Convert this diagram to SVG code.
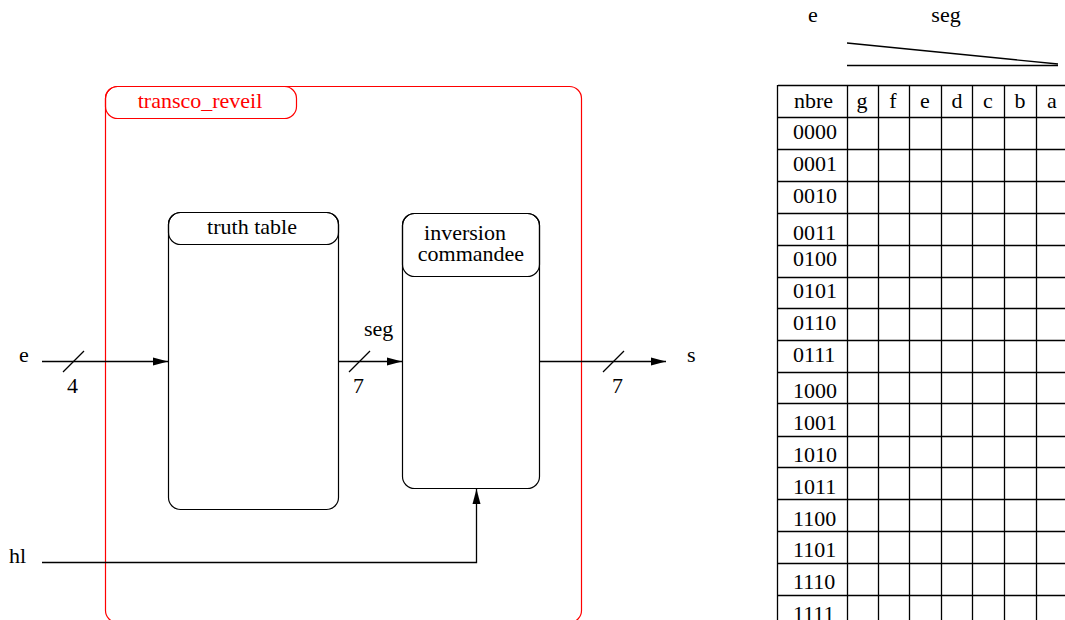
<svg xmlns="http://www.w3.org/2000/svg" width="1065" height="620" viewBox="0 0 1065 620" font-family="Liberation Serif, serif">
<defs>
<marker id="arr" markerWidth="16" markerHeight="10" refX="15" refY="5" orient="auto" markerUnits="userSpaceOnUse">
<path d="M0,1 L15,5 L0,9 Z" fill="#000"/>
</marker>
<style>
text{font-family:'Liberation Serif',serif;font-size:22px;fill:#000}
.red{fill:#ff0000}
.box{fill:none;stroke:#000;stroke-width:1.2}
.frame{fill:none;stroke:#ff0000;stroke-width:1.2}
.ln{stroke:#000;stroke-width:1.3;fill:none}
.g{stroke:#000;stroke-width:1.3}
.mid{text-anchor:middle}
</style>
</defs>
<rect width="1065" height="620" fill="#fff"/>

<g id="transco_reveil">
<rect class="frame" x="105.5" y="86.5" width="476" height="536" rx="12"/>
<rect class="frame" x="105.5" y="86.5" width="191" height="32" rx="12"/>
<text class="red mid" x="200" y="108">transco_reveil</text>
</g>

<g id="truth_table">
<rect class="box" x="168.5" y="212.5" width="170" height="297" rx="12"/>
<rect class="box" x="168.5" y="212.5" width="170" height="32" rx="12"/>
<text class="mid" x="252" y="234">truth table</text>
</g>

<g id="inversion_commandee">
<rect class="box" x="402.5" y="213.5" width="137" height="275" rx="12"/>
<rect class="box" x="402.5" y="213.5" width="137" height="63" rx="12"/>
<text class="mid" x="465" y="240">inversion</text>
<text class="mid" x="471" y="261">commandee</text>
</g>

<g id="connectors">
<line class="ln" x1="42" y1="361.5" x2="168" y2="361.5" marker-end="url(#arr)"/>
<line class="ln" x1="63" y1="372" x2="84" y2="351"/>
<line class="ln" x1="338" y1="361.5" x2="402" y2="361.5" marker-end="url(#arr)"/>
<line class="ln" x1="349" y1="372" x2="370" y2="351"/>
<line class="ln" x1="539" y1="361.5" x2="666" y2="361.5" marker-end="url(#arr)"/>
<line class="ln" x1="603" y1="372" x2="624" y2="351"/>
<polyline class="ln" points="42,562.5 476.5,562.5 476.5,489" marker-end="url(#arr)"/>
</g>

<g id="labels">
<text x="19" y="362">e</text>
<text x="67" y="393">4</text>
<text x="364" y="336">seg</text>
<text x="353" y="393">7</text>
<text x="612" y="393">7</text>
<text x="687" y="362">s</text>
<text x="9" y="563">hl</text>
</g>

<g id="table">
<text x="808" y="22">e</text>
<text class="mid" x="946" y="22">seg</text>
<line class="ln" x1="847" y1="43" x2="1058" y2="64"/>
<line class="ln" x1="847" y1="65.5" x2="1058" y2="65.5"/>
<g class="g">
<line x1="778" y1="85.5" x2="1065" y2="85.5"/>
<line x1="778" y1="117.5" x2="1065" y2="117.5"/>
<line x1="778" y1="149.5" x2="1065" y2="149.5"/>
<line x1="778" y1="181.5" x2="1065" y2="181.5"/>
<line x1="778" y1="213.5" x2="1065" y2="213.5"/>
<line x1="778" y1="245.5" x2="1065" y2="245.5"/>
<line x1="778" y1="277.5" x2="1065" y2="277.5"/>
<line x1="778" y1="308.5" x2="1065" y2="308.5"/>
<line x1="778" y1="340.5" x2="1065" y2="340.5"/>
<line x1="778" y1="372.5" x2="1065" y2="372.5"/>
<line x1="778" y1="403.5" x2="1065" y2="403.5"/>
<line x1="778" y1="436.5" x2="1065" y2="436.5"/>
<line x1="778" y1="467.5" x2="1065" y2="467.5"/>
<line x1="778" y1="499.5" x2="1065" y2="499.5"/>
<line x1="778" y1="531.5" x2="1065" y2="531.5"/>
<line x1="778" y1="563.5" x2="1065" y2="563.5"/>
<line x1="778" y1="595.5" x2="1065" y2="595.5"/>
<line x1="777.5" y1="85" x2="777.5" y2="620"/>
<line x1="847.5" y1="85" x2="847.5" y2="620"/>
<line x1="878.5" y1="85" x2="878.5" y2="620"/>
<line x1="909.5" y1="85" x2="909.5" y2="620"/>
<line x1="941.5" y1="85" x2="941.5" y2="620"/>
<line x1="972.5" y1="85" x2="972.5" y2="620"/>
<line x1="1004.5" y1="85" x2="1004.5" y2="620"/>
<line x1="1036.5" y1="85" x2="1036.5" y2="620"/>
</g>
<text x="794" y="108">nbre</text>
<text class="mid" x="862" y="108">g</text>
<text class="mid" x="893" y="108">f</text>
<text class="mid" x="925" y="108">e</text>
<text class="mid" x="957" y="108">d</text>
<text class="mid" x="988" y="108">c</text>
<text class="mid" x="1020" y="108">b</text>
<text class="mid" x="1052" y="108">a</text>
<text x="793" y="139">0000</text>
<text x="793" y="171">0001</text>
<text x="793" y="203">0010</text>
<text x="793" y="240">0011</text>
<text x="793" y="266">0100</text>
<text x="793" y="298">0101</text>
<text x="793" y="330">0110</text>
<text x="793" y="362">0111</text>
<text x="793" y="398">1000</text>
<text x="793" y="430">1001</text>
<text x="793" y="462">1010</text>
<text x="793" y="494">1011</text>
<text x="793" y="526">1100</text>
<text x="793" y="557">1101</text>
<text x="793" y="589">1110</text>
<text x="793" y="621">1111</text>
</g>
</svg>
